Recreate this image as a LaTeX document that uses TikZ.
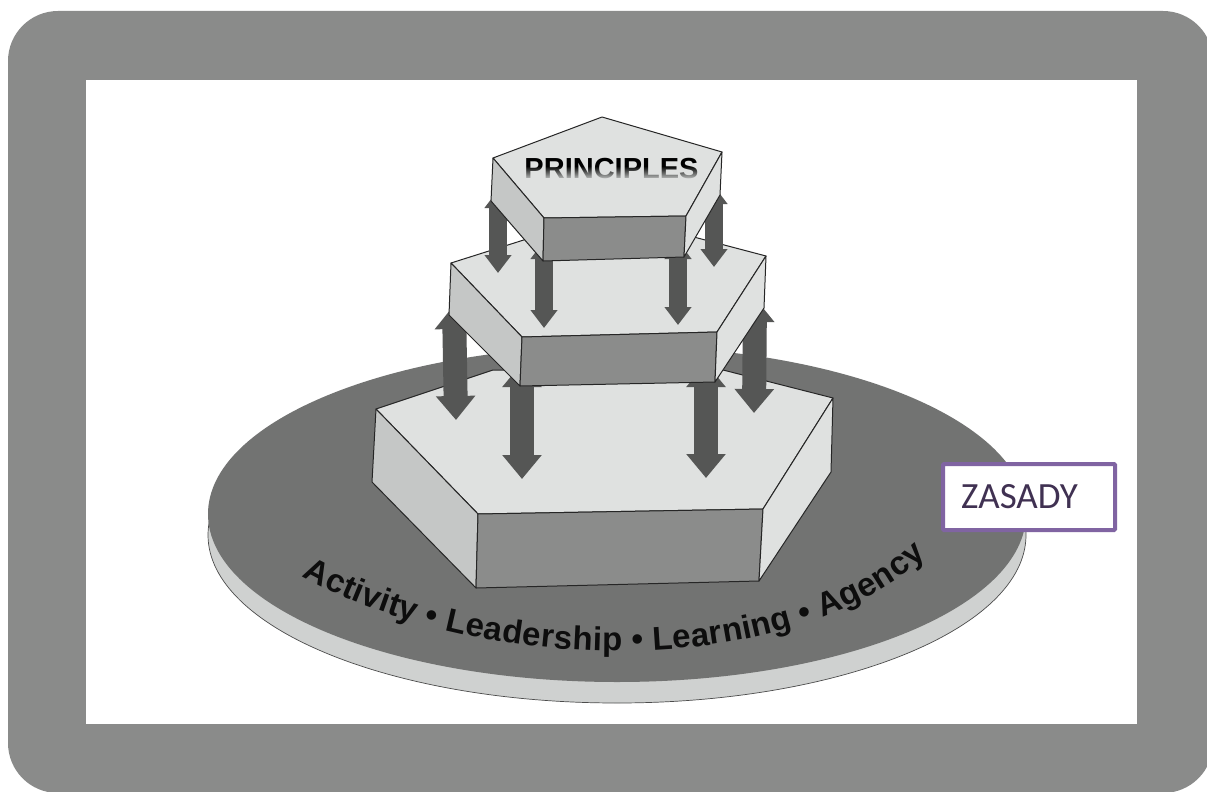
\documentclass[tikz,border=0pt]{standalone}
\usepackage{fontspec}
\setmainfont{Liberation Sans}
\newfontfamily\labelfont{Carlito}
\usetikzlibrary{arrows.meta,decorations.text,fadings}
\definecolor{framegray}{HTML}{8A8B8A}
\definecolor{discgray}{HTML}{727372}
\definecolor{rimgray}{HTML}{CFD1D0}
\definecolor{topgray}{HTML}{DFE1E0}
\definecolor{leftgray}{HTML}{C5C7C6}
\definecolor{frontgray}{HTML}{8B8C8B}
\definecolor{arrowgray}{HTML}{555655}
\definecolor{boxpurple}{HTML}{8064A2}
\definecolor{textpurple}{HTML}{403152}
\tikzfading[name=fadedown, top color=transparent!100, bottom color=transparent!0]
\tikzset{
  edge/.style={draw=black!85, line width=1pt, line join=round},
  bigarrow/.style={arrowgray, line width=24pt, {Triangle[width=38pt,length=24pt]}-{Triangle[width=38pt,length=24pt]}},
  smallarrow/.style={arrowgray, line width=18pt, {Triangle[width=26pt,length=18pt]}-{Triangle[width=26pt,length=18pt]}}
}
\begin{document}
\begin{tikzpicture}[x=1pt,y=-1pt]
        \useasboundingbox (0,0) rectangle (1207,792);
        % frame
        \fill [white] (0,0) rectangle (1207,792);
        \fill [framegray, rounded corners=50pt] (8,11) rectangle (1213,793);
        \fill [white] (86,80) rectangle (1137,724);
        % disc
        \draw [draw=black!70, line width=0.7pt, fill=rimgray] (617,535) ellipse [x radius=409, y radius=168];
        \fill [discgray] (617,514) ellipse [x radius=409, y radius=168];
        \path [decorate, decoration={text along path, text align={fit to path},
            text={|\fontsize{33}{33}\selectfont\bfseries\color{black!95}|Activity • Leadership • Learning • Agency}}]
            (302,576) .. controls (390,625) and (510,652) .. (625,651) .. controls (730,650) and (850,625) .. (926,556);
        % bottom block
        \coordinate (BL)  at (376,409);
        \coordinate (BFL) at (478,514);
        \coordinate (BFR) at (763,509);
        \coordinate (BR)  at (833,398);
        \coordinate (BLd) at (372,482);
        \coordinate (BFLd) at (476,588);
        \coordinate (BFRd) at (759,581);
        \coordinate (BRd) at (831,472);
        \draw [edge, fill=topgray] (BL) -- (493,370) -- (723,370) -- (BR) -- (BFR) -- (BFL) -- cycle;
        \draw [edge, fill=leftgray] (BL) -- (BFL) -- (BFLd) -- (BLd) -- cycle;
        \draw [edge, fill=frontgray] (BFL) -- (BFR) -- (BFRd) -- (BFLd) -- cycle;
        \draw [edge, fill=topgray] (BFR) -- (BR) -- (BRd) -- (BFRd) -- cycle;
        % arrows between bottom and middle
        \coordinate (EU) at (454,305);
        \coordinate (ED) at (456,420);
        \coordinate (FU) at (522,363);
        \coordinate (FD) at (522,479);
        \coordinate (GU) at (706,363);
        \coordinate (GD) at (706,478);
        \coordinate (HU) at (755,298);
        \coordinate (HD) at (754,413);
        \draw [bigarrow] (EU) -- (ED);
        \draw [bigarrow] (FU) -- (FD);
        \draw [bigarrow] (GU) -- (GD);
        \draw [bigarrow] (HU) -- (HD);
        % middle block
        \coordinate (ML)  at (451,263);
        \coordinate (MFL) at (522,337);
        \coordinate (MFR) at (717,332);
        \coordinate (MR)  at (766,256);
        \coordinate (MLd) at (449,315);
        \coordinate (MFLd) at (520,386);
        \coordinate (MFRd) at (715,382);
        \coordinate (MRd) at (764,308);
        \draw [edge, fill=topgray] (ML) -- (530,238) -- (690,236) -- (MR) -- (MFR) -- (MFL) -- cycle;
        \draw [edge, fill=leftgray] (ML) -- (MFL) -- (MFLd) -- (MLd) -- cycle;
        \draw [edge, fill=frontgray] (MFL) -- (MFR) -- (MFRd) -- (MFLd) -- cycle;
        \draw [edge, fill=topgray] (MFR) -- (MR) -- (MRd) -- (MFRd) -- cycle;
        % arrows between middle and top
        \coordinate (AU) at (498,190);
        \coordinate (AD) at (498,273);
        \coordinate (BU) at (544,241);
        \coordinate (BD) at (544,328);
        \coordinate (CU) at (678,241);
        \coordinate (CD) at (678,325);
        \coordinate (DU) at (714,186);
        \coordinate (DD) at (714,267);
        \draw [smallarrow] (AU) -- (AD);
        \draw [smallarrow] (BU) -- (BD);
        \draw [smallarrow] (CU) -- (CD);
        \draw [smallarrow] (DU) -- (DD);
        % top block
        \coordinate (TA)  at (602,117);
        \coordinate (TL)  at (493,158);
        \coordinate (TFL) at (544,218);
        \coordinate (TFR) at (686,216);
        \coordinate (TR)  at (722,152);
        \coordinate (TLd) at (491,201);
        \coordinate (TFLd) at (543,261);
        \coordinate (TFRd) at (684,257);
        \coordinate (TRd) at (720,195);
        \draw [edge, fill=topgray] (TA) -- (TR) -- (TFR) -- (TFL) -- (TL) -- cycle;
        \draw [edge, fill=leftgray] (TL) -- (TFL) -- (TFLd) -- (TLd) -- cycle;
        \draw [edge, fill=frontgray] (TFL) -- (TFR) -- (TFRd) -- (TFLd) -- cycle;
        \draw [edge, fill=topgray] (TFR) -- (TR) -- (TRd) -- (TFRd) -- cycle;
        \node (PR) at (611.5,169) [font=\fontsize{29}{29}\selectfont\bfseries, text=black, inner sep=0pt] {PRINCIPLES};
        \fill [topgray, path fading=fadedown] (522,166) rectangle (701,181);
        % label
        \node (ZS) at (1029,497) [draw=boxpurple, line width=4pt, fill=white, rounded corners=1pt,
            minimum width=172pt, minimum height=66pt, inner sep=0pt] {};
        \node (ZT) at (961,497) [anchor=west, text=textpurple, inner sep=0pt, font=\labelfont\fontsize{37}{37}\selectfont] {ZASADY};
\end{tikzpicture}
\end{document}
